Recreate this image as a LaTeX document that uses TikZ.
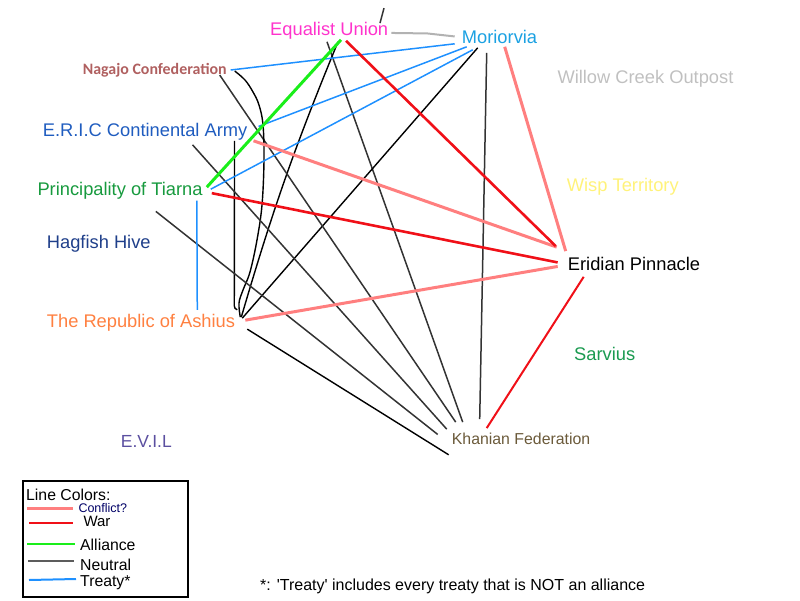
\documentclass[tikz,border=0pt]{standalone}
\usepackage{fontspec}
\setmainfont{Liberation Sans}
\newfontfamily\calib{Carlito}
\usepackage{tikz}
\usetikzlibrary{positioning}

\definecolor{eqcol}{HTML}{FF33CC}
\definecolor{morcol}{HTML}{1BA1E2}
\definecolor{nagcol}{HTML}{B06060}
\definecolor{wcocol}{HTML}{C0C0C0}
\definecolor{ericcol}{HTML}{1F5CBF}
\definecolor{tiacol}{HTML}{179A3E}
\definecolor{wispcol}{HTML}{FFF27A}
\definecolor{hagcol}{HTML}{1F3F8A}
\definecolor{ashcol}{HTML}{FF8040}
\definecolor{sarcol}{HTML}{1A9A50}
\definecolor{evilcol}{HTML}{5B4FA0}
\definecolor{khacol}{HTML}{6B5A3A}
\definecolor{treatycol}{HTML}{1E90FF}
\definecolor{warcol}{HTML}{F01018}
\definecolor{conflictcol}{HTML}{FF7F7F}
\definecolor{alliancecol}{HTML}{1AEE1A}
\definecolor{neutralcol}{HTML}{333333}

\begin{document}
\begin{tikzpicture}[x=1pt,y=-1pt,
    nation/.style={inner sep=0pt,anchor=base west,text height=13.7pt,text depth=4.6pt,
      font=\fontsize{18.3}{20}\selectfont},
    key/.style={inner sep=0pt,anchor=base west,font=\fontsize{15.8}{18}\selectfont},
    treaty/.style={treatycol,line width=1.5pt},
    war/.style={warcol,line width=2.6pt},
    conflict/.style={conflictcol,line width=3pt},
    alliance/.style={alliancecol,line width=3pt},
    neutral/.style={neutralcol,line width=1.5pt}]
  \useasboundingbox (0,0) rectangle (800,600);

  % nations
  \node[nation,eqcol] (eq) at (270,35) {Equalist Union};
  \node[nation,morcol] (mor) at (461.7,43) {Moriorvia};
  \node[nation,nagcol,font=\calib\bfseries\fontsize{15.9}{18}\selectfont] (nag) at (82.7,74) {Nagajo Confederation};
  \node[nation,wcocol] (wco) at (557.3,83.3) {Willow Creek Outpost};
  \node[nation,ericcol] (eric) at (42.7,136) {E.R.I.C Continental Army};
  \node[nation,tiacol] (tia) at (37.3,195.7) {Principality of Tiarna};
  \node[nation,wispcol] (wisp) at (566.7,191) {Wisp Territory};
  \node[nation,hagcol] (hag) at (46.7,248.3) {Hagfish Hive};
  \node[nation,black] (eri) at (567.7,270) {Eridian Pinnacle};
  \node[nation,ashcol] (ash) at (46.7,327.7) {The Republic of Ashius};
  \node[nation,sarcol] (sar) at (574,360) {Sarvius};
  \node[nation,evilcol,font=\fontsize{17.5}{20}\selectfont] (evil) at (120.7,447.3) {E.V.I.L};
  \node[nation,khacol,font=\fontsize{15.85}{18}\selectfont] (kha) at (451.7,444) {Khanian Federation};

  % neutral
  \draw[neutral] ([shift={(110,2)}]eq.north west) -- ++(4,-15);
  \draw[neutral] ([shift={(57,2)}]eq.south west) -- ([shift={(11,-8)}]kha.north west);
  \draw[neutral,black,line width=1.4pt] ([shift={(68,2)}]eq.south west) to[bend right=3] ([shift={(6,-6)}]ash.east);
  \draw[neutral,black,line width=1.4pt] ([shift={(16,0)}]mor.south west) -- ([shift={(7,-5)}]ash.east);
  \draw[neutral] ([shift={(25,5)}]mor.south west) -- ([shift={(28,-11)}]kha.north west);
  \draw[neutral] ([shift={(137,1)}]nag.base west) -- ([shift={(4,-8)}]kha.north west);
  \draw[neutral,black,line width=1.4pt] plot[smooth,tension=0.6] coordinates {([shift={(152,-3)}]nag.base west)
    (245,80) (253,92) (259,105) (263,125) (264,160) (262,205) (257,240) (250,272) (243,290) (239,303)
    ([shift={(5,-6)}]ash.east)};
  \draw[neutral,black,line width=1.4pt] ([shift={(-13,0)}]eric.south east) -- ([shift={(-1,-8)}]ash.north east)
    to[bend right=40] ++(3,4);
  \draw[neutral] ([shift={(-55,4)}]eric.south east) -- ([shift={(-5,-1)}]kha.north west);
  \draw[neutral] ([shift={(5,-23)}]hag.north east) -- ([shift={(-14,-5)}]kha.west);
  \draw[neutral,black,line width=1.4pt] ([shift={(12,6)}]ash.east) -- ([shift={(-3,6)}]kha.south west);
  \draw[gray!60,line width=2pt] ([shift={(3,2.5)}]eq.east) -- ++(36,0.5) -- ([shift={(-7,-2)}]mor.west);

  % treaties
  \draw[treaty] ([shift={(148,-4)}]nag.base west) -- ([shift={(-7,-4)}]mor.south west);
  \draw[treaty] ([shift={(11,-5)}]eric.east) -- ([shift={(5,-1)}]mor.south west);
  \draw[treaty] ([shift={(8,-2)}]tia.east) -- ([shift={(11,2)}]mor.south west);
  \draw[treaty] ([shift={(-6,0)}]tia.south east) -- ([shift={(-38,-4)}]ash.north east);

  % conflicts
  \draw[conflict] ([shift={(43,-1)}]mor.south west) -- ([shift={(-2,-5)}]eri.north west);
  \draw[conflict] ([shift={(6,0)}]eric.south east) -- ([shift={(-11,-9)}]eri.north west);
  \draw[conflict] ([shift={(10,-3)}]ash.east) -- ([shift={(-10,1)}]eri.west);

  % wars
  \draw[war] ([shift={(76,1)}]eq.south west) -- ([shift={(-12,-10)}]eri.north west);
  \draw[war] ([shift={(9,2)}]tia.east) -- ([shift={(-10,-3)}]eri.west);
  \draw[war,line width=2pt] ([shift={(16,2)}]eri.south west) -- ([shift={(35,-2)}]kha.north west);

  % alliance
  \draw[alliance] ([shift={(4,-4)}]tia.east) -- ([shift={(71,0)}]eq.south west);

  % legend
  \draw[line width=2pt] (23,481) rectangle (188,597);
  \node[key] (keytitle) at (26,500.5) {Line Colors:};
  \draw[conflict] (27,508) -- (73,508);
  \node[key,font=\fontsize{12.5}{14}\selectfont,text=blue!40!black] (keyconf) at (78.3,512.5) {Conflict?};
  \draw[war,line width=2pt] (29,522.7) -- (73,522.7);
  \node[key,font=\fontsize{15}{17}\selectfont] (keywar) at (83.3,526.7) {War};
  \draw[alliance,line width=2pt] (27,544) -- (75,544);
  \node[key] (keyall) at (80,550) {Alliance};
  \draw[neutralcol!80,line width=2pt] (28,561) -- (74,561);
  \node[key] (keyneu) at (80,570) {Neutral};
  \draw[treaty,line width=2pt] (29,580) -- (76,579);
  \node[key] (keytre) at (80,586.7) {Treaty*};

  \node[key,font=\fontsize{16}{18}\selectfont] (note) at (260,590)
    {*: \textquotesingle Treaty\textquotesingle{} includes every treaty that is NOT an alliance};
\end{tikzpicture}
\end{document}
